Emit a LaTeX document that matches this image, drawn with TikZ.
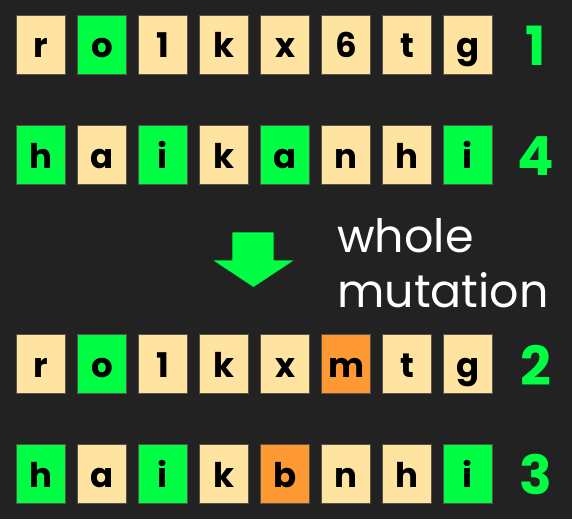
\documentclass[tikz,border=0pt]{standalone}
\usepackage{fontspec}
\setmainfont{Poppins}
\usepackage{xcolor}
\usepackage{tikz}
\usetikzlibrary{calc}
\definecolor{bg}{HTML}{222222}
\definecolor{gene}{HTML}{FFE3A0}
\definecolor{green}{HTML}{00FF44}
\definecolor{orange}{HTML}{FF9933}
\definecolor{edge}{HTML}{55524A}
\tikzset{
  cell/.style={draw=edge, line width=1pt, minimum width=49pt, minimum height=59pt,
    inner sep=0pt, fill=gene},
  hit/.style={fill=green},
  mut/.style={fill=orange},
  letter/.style={anchor=base, text=black, inner sep=0pt,
    font=\fontsize{34}{40}\selectfont\bfseries},
  tag/.style={anchor=base, text=green, inner sep=0pt,
    font=\fontsize{54}{60}\selectfont\bfseries},
  note/.style={anchor=base west, text=white, inner sep=0pt,
    font=\fontsize{46}{55}\selectfont}
}

\begin{document}
\begin{tikzpicture}[x=1pt, y=-1pt]
  \fill[bg] (0,0) rectangle (572,519);
  \useasboundingbox (0,0) rectangle (572,519);

  % chromosome 1
  \foreach \c/\s [count=\i from 0] in {r/cell, o/hit, 1/cell, k/cell, x/cell, 6/cell, t/cell, g/cell} {
    \node[cell, \s] (a\i) at (41+61*\i, 45) {};
    \node[letter] at ($(a\i.center)+(0,13)$) {\c};
  }
  \node[tag] (na) at (536,65) {1};

  % chromosome 4
  \foreach \c/\s [count=\i from 0] in {h/hit, a/cell, i/hit, k/cell, a/hit, n/cell, h/cell, i/hit} {
    \node[cell, \s] (b\i) at (41+61*\i, 155) {};
    \node[letter] at ($(b\i.center)+(0,13)$) {\c};
  }
  \node[tag] (nb) at (536,175) {4};

  % arrow and label
  \fill[green, draw=bg, line width=0.6pt] (232,232) -- (274,232) -- (274,260) -- (295,260)
    -- (253.5,287.5) -- (212,260) -- (232,260) -- cycle;
  \node[note] (whole) at (337,252) {whole};
  \node[note] (mutation) at (337,307.5) {mutation};

  % chromosome 2
  \foreach \c/\s [count=\i from 0] in {r/cell, o/hit, 1/cell, k/cell, x/cell, m/mut, t/cell, g/cell} {
    \node[cell, \s] (c\i) at (41+61*\i, 364) {};
    \node[letter] at ($(c\i.center)+(0,13)$) {\c};
  }
  \node[tag] (nc) at (536,385) {2};

  % chromosome 3
  \foreach \c/\s [count=\i from 0] in {h/hit, a/cell, i/hit, k/cell, b/mut, n/cell, h/cell, i/hit} {
    \node[cell, \s] (d\i) at (41+61*\i, 474) {};
    \node[letter] at ($(d\i.center)+(0,13)$) {\c};
  }
  \node[tag] (nd) at (536,494) {3};
\end{tikzpicture}
\end{document}
